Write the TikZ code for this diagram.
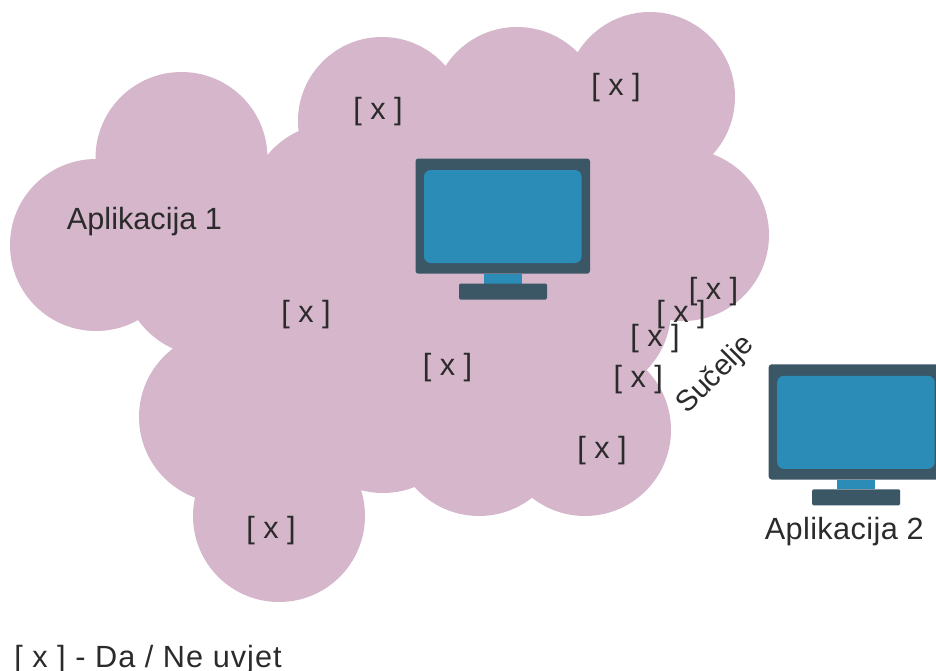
\documentclass[tikz,border=0pt]{standalone}
\usepackage{fontspec}
\setmainfont{Liberation Sans}
\definecolor{cloud}{HTML}{D5B6CB}
\definecolor{frame}{HTML}{3B5766}
\definecolor{screen}{HTML}{2A8CB7}
\definecolor{ink}{HTML}{2B2B2B}
\tikzset{
  lbl/.style={text=ink,inner sep=0pt,anchor=base,font=\fontsize{23}{27}\selectfont},
  px/.style={x=0.75pt,y=-0.75pt},
  monitor/.pic={
    \fill[frame,rounded corners=2.2pt] (415.5,158.5) rectangle (590,273.7);
    \fill[screen,rounded corners=5pt] (424,170) rectangle (581.5,263);
    \fill[screen] (484,273.7) rectangle (522,283.5);
    \fill[frame,rounded corners=1pt] (459,283.5) rectangle (547,299.5);
  }
}
\begin{document}
\begin{tikzpicture}[px]
\useasboundingbox (0,0) rectangle (936,671);
\clip (0,0) rectangle (936,671);
\fill[white] (0,0) rectangle (936,671);
\fill[cloud]
  (96,245) circle[radius=86]
  (181.5,158) circle[radius=86]
  (382,121) circle[radius=84]
  (517,112) circle[radius=85]
  (650,97) circle[radius=85]
  (683,235) circle[radius=86]
  (334,209.5) circle[radius=86]
  (208,270) circle[radius=86]
  (225,417) circle[radius=86]
  (279,516) circle[radius=86]
  (383,407) circle[radius=86]
  (479,430) circle[radius=86]
  (585,430) circle[radius=86]
  (585,310) circle[radius=86]
  (500,180) circle[radius=120]
  (300,300) circle[radius=110]
  (440,330) circle[radius=120]
  (600,200) circle[radius=60];
\pic at (0,0) {monitor};
\pic at (353.2,205.8) {monitor};
\node[lbl] (app1) at (144.5,229.5) {Aplikacija 1};
\node[lbl] (app2) at (844.3,539.5) {\addfontfeatures{LetterSpace=1.3}Aplikacija 2};
\node[lbl,anchor=center,rotate=45,font=\fontsize{22}{26}\selectfont] (iface) at (716,375) {Sučelje};
\node[lbl] (x1) at (378,119) {[ x ]};
\node[lbl] (x2) at (616,95) {[ x ]};
\node[lbl] (x3) at (306,322.5) {[ x ]};
\node[lbl] (x4) at (447.5,375.5) {[ x ]};
\node[lbl] (x5) at (271,538.5) {[ x ]};
\node[lbl] (x6) at (602,458.5) {[ x ]};
\node[lbl] (x7) at (638.3,387.5) {[ x ]};
\node[lbl] (x8) at (655,346.5) {[ x ]};
\node[lbl] (x9) at (681,322.5) {[ x ]};
\node[lbl] (x10) at (713.5,299) {[ x ]};
\node[lbl,anchor=base west] (legend) at (14,667) {\addfontfeatures{LetterSpace=3.4}[ x ] - Da / Ne uvjet};
\end{tikzpicture}
\end{document}
